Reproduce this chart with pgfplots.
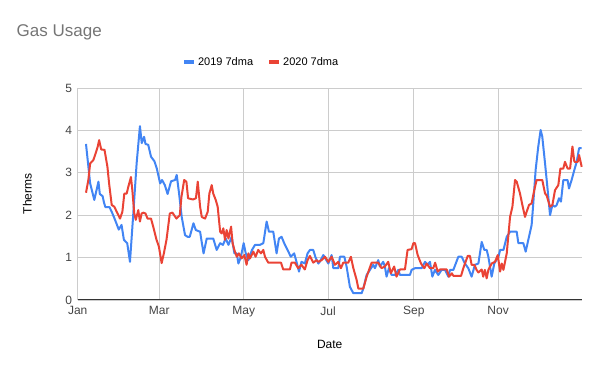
\documentclass[border=0pt]{standalone}
\usepackage{pgfplots}
\pgfplotsset{compat=1.18}
\usepackage{fontspec}
\setmainfont{Liberation Sans}
\definecolor{gblue}{HTML}{4285F4}
\definecolor{gred}{HTML}{EA4335}
\definecolor{ggrid}{HTML}{CCCCCC}
\definecolor{gtitle}{HTML}{757575}
\definecolor{gtick}{HTML}{444444}
\begin{document}
\begin{tikzpicture}
\path[use as bounding box] (0pt,0pt) rectangle (600pt,371pt);
\node[anchor=west, text=gtitle, font=\fontsize{17}{20}\selectfont, inner sep=0pt] at (16.5pt,339pt) {Gas Usage};
\begin{axis}[
  at={(77.7pt,71pt)}, anchor=south west,
  scale only axis, width=504pt, height=212pt,
  xmin=0, xmax=364.4, ymin=0, ymax=5,
  axis x line=bottom, axis y line=left,
  x axis line style={-, draw=black!80, line width=1pt},
  y axis line style={draw=none},
  xtick={0,59,120,181,243,304},
  xticklabels={Jan,Mar,May,Jul,Sep,Nov},
  ytick={0,1,2,3,4,5},
  major tick length=0pt,
  grid=major,
  major grid style={draw=ggrid, line width=0.8pt},
  /pgf/number format/assume math mode=true,
  tick label style={font=\fontsize{12}{14}\selectfont, text=gtick},
  xticklabel style={yshift=-3pt},
  yticklabel style={xshift=-2pt},
  xlabel={Date}, ylabel={Therms},
  every axis x label/.style={at={(axis description cs:0.5,-0.21)}, anchor=center, font=\fontsize{12}{14}\selectfont},
  every axis y label/.style={at={(axis description cs:-0.1,0.5)}, rotate=90, anchor=center, font=\fontsize{12}{14}\selectfont},
  legend columns=2,
  legend style={at={(axis description cs:0.364,1.123)}, anchor=center, draw=none, fill=none,
    font=\fontsize{11}{13}\selectfont, /tikz/every even column/.append style={column sep=12pt}},
  legend image code/.code={\draw[#1, line width=4pt] (0pt,0pt) -- (10pt,0pt);},
  clip=false,
]
\addplot[gblue, line width=2pt, line join=round] coordinates {
(6,3.68) (9,2.75) (12,2.36) (15,2.79) (16,2.5) (18,2.45) (19,2.3) (20,2.19) (23,2.19) (25,2.05) (27,1.89) (29.7,1.66) (31.7,1.77) (33.4,1.42) (35.8,1.34) (37.8,0.9) (40.2,2.04) (42.6,3.22) (45,4.1) (46.3,3.7) (48,3.85) (49,3.68) (51,3.66) (53,3.38) (55.5,3.27) (57.2,3.1) (59.6,2.75) (61,2.83) (63,2.71) (65,2.5) (67.5,2.8) (70.4,2.83) (71.6,2.95) (73.3,2.51) (75.2,1.96) (77.6,1.53) (79.5,1.49) (81,1.49) (83.7,1.81) (85.4,1.65) (88.5,1.61) (89.5,1.4) (91,1.1) (93.3,1.45) (98,1.45) (100.5,1.18) (103,1.34) (105,1.3) (107,1.45) (109,1.3) (111.3,1.49) (113.3,1.1) (115,1.1) (116.2,0.86) (118,1.02) (120,1.34) (121.5,1.1) (123.4,0.94) (126,1.18) (128.2,1.3) (131.8,1.3) (134.2,1.34) (136.6,1.85) (138.3,1.61) (141.4,1.61) (143.8,1.1) (145.5,1.45) (147.4,1.49) (149.3,1.34) (151.7,1.18) (154.1,1.02) (156.5,1.1) (158.2,0.9) (160,0.67) (161.8,0.9) (164.2,0.86) (166.2,1.1) (167.9,1.18) (170.3,1.18) (172,1.0) (174,0.86) (175,0.9) (177.6,1.06) (181.2,0.86) (183.6,1.06) (184.8,0.75) (188.4,0.75) (189.6,1.02) (192.8,1.02) (194.4,0.79) (195.6,0.55) (196.8,0.31) (199.3,0.16) (205.3,0.16) (206.5,0.27) (208.9,0.59) (211.3,0.71) (213.7,0.83) (214.9,0.75) (217.3,0.94) (218.5,0.79) (220.9,0.9) (222.1,0.79) (223.3,0.55) (225,0.75) (227,0.59) (229.4,0.59) (231.8,0.71) (233,0.59) (240.2,0.59) (241.4,0.71) (243.9,0.75) (248.7,0.75) (251.1,0.9) (253,0.83) (254.7,0.9) (256.4,0.55) (258.3,0.71) (260.7,0.59) (263.1,0.71) (265.6,0.71) (268,0.55) (269.2,0.71) (271.6,0.71) (275.2,1.02) (277.6,1.02) (280,0.86) (282.4,0.75) (284.8,0.55) (287.2,0.83) (289.7,0.86) (292.1,1.37) (294,1.18) (295.7,1.18) (296.9,1.02) (299.3,0.55) (301.2,0.86) (304.2,1.02) (305.4,1.18) (307.8,1.18) (310.2,1.49) (312.6,1.61) (317.4,1.61) (318.6,1.34) (322.2,1.34) (323.9,1.14) (325.8,1.42) (328.2,1.77) (329.4,2.28) (331.1,3.07) (333,3.62) (334.7,4.01) (335.9,3.85) (337.9,3.22) (339.8,2.59) (341.5,2.0) (343.2,2.24) (345.1,2.2) (346.3,2.24) (348,2.4) (349.4,2.32) (351.1,2.83) (354.2,2.83) (355.2,2.63) (357.1,2.83) (359.1,3.07) (360.8,3.26) (362.5,3.58) (364.4,3.58)
};
\addlegendentry{2019 7dma}
\addplot[gred, line width=2pt, line join=round] coordinates {
(6,2.53) (7.7,2.83) (9,3.22) (11.3,3.3) (13,3.46) (14.5,3.62) (15.5,3.77) (17,3.55) (19.4,3.54) (21.5,3.14) (22.7,2.75) (24.6,2.24) (26.5,2.2) (28.2,2.08) (30.6,1.92) (32.3,2.08) (33.7,2.51) (35.4,2.51) (36.6,2.67) (38.5,2.9) (39.5,2.59) (40.9,2.04) (42,1.89) (43.8,2.12) (45,1.85) (46.2,2.04) (47.4,2.06) (49,2.04) (50.5,1.92) (53,1.92) (54.6,1.73) (57,1.42) (58.7,1.26) (60.7,0.87) (62.3,1.1) (64.2,1.42) (66.6,2.04) (68.5,2.06) (71.4,1.92) (73.8,2.0) (75,2.43) (77,2.83) (78.6,2.79) (79.8,2.4) (83.4,2.37) (85.5,2.4) (86.8,2.79) (88.5,2.2) (89.7,1.96) (92.1,1.92) (94,2.08) (95.2,2.51) (96.9,2.71) (98,2.51) (99.8,2.36) (101.2,2.2) (103,1.61) (104.1,1.57) (105.3,1.69) (106.5,1.42) (107.7,1.65) (109,1.45) (110.9,1.73) (112,1.34) (113.3,1.18) (115,1.02) (116.6,1.1) (118.5,0.98) (120.5,1.06) (122.1,0.83) (123.4,1.1) (124.6,0.98) (127,1.14) (128.6,1.02) (130.5,1.18) (132.5,1.1) (134.2,1.18) (135.4,1.02) (137.8,0.88) (147,0.88) (148.6,0.72) (153.4,0.72) (154.6,0.88) (157,0.88) (159.4,0.75) (161.8,0.83) (164.2,0.72) (166.2,0.94) (167.9,1.04) (170.3,0.88) (172.7,0.94) (174,0.9) (176.4,0.94) (178.8,1.02) (181.2,0.9) (183.6,1.02) (186,0.83) (188.4,0.9) (190.3,0.75) (192,0.88) (195.6,0.88) (197.5,1.02) (199.3,0.75) (201.7,0.47) (202.9,0.27) (206.5,0.27) (208.9,0.55) (212.5,0.88) (217.3,0.88) (219.7,0.75) (222.1,0.79) (224.5,0.9) (226.4,0.63) (228.8,0.79) (230.5,0.55) (233,0.72) (236.6,0.72) (238.5,1.18) (241.4,1.2) (242.7,1.34) (243.9,1.34) (245.8,1.06) (248.2,0.86) (250.6,0.75) (252.3,0.86) (254.7,0.75) (257.1,0.75) (258.4,0.88) (260.3,0.67) (262,0.72) (266.8,0.72) (268.5,0.55) (270.5,0.63) (271.6,0.57) (277.2,0.57) (278.8,0.75) (282,1.04) (283.6,1.04) (284.8,0.83) (286.8,0.83) (288.4,0.71) (289.7,0.65) (292.1,0.72) (293.2,0.55) (294.4,0.71) (295.7,0.51) (296.9,0.71) (299.3,0.86) (301.7,0.9) (303.7,1.06) (305.4,0.67) (306.6,0.86) (307.8,0.71) (310.2,1.1) (312.6,1.96) (314.3,2.2) (316.2,2.83) (317.4,2.79) (319.8,2.51) (321.5,2.24) (323.4,1.96) (324.6,2.08) (326.3,2.24) (328.2,2.28) (330.1,2.59) (331.8,2.83) (335.9,2.83) (337.9,2.51) (339,2.47) (341.5,2.2) (343.2,2.24) (345.1,2.59) (347.5,2.71) (349,3.1) (351.1,3.1) (352.3,3.26) (354.2,3.1) (356,3.1) (357.7,3.62) (359.1,3.26) (361.6,3.26) (362.5,3.42) (364.4,3.14)
};
\addlegendentry{2020 7dma}
\end{axis}
\end{tikzpicture}
\end{document}
